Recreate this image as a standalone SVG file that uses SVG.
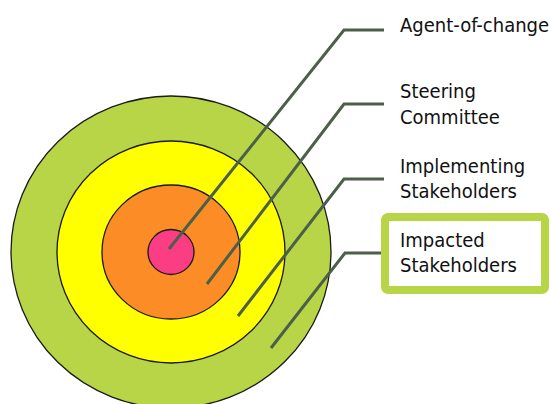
<svg xmlns="http://www.w3.org/2000/svg" width="551" height="404" viewBox="0 0 551 404">
<style>
.ring{stroke:#1a1a1a;stroke-width:1.3}
.lead{fill:none;stroke:#4b5f49;stroke-width:3;stroke-linejoin:miter}
.lbl{font-family:"DejaVu Sans","Liberation Sans",sans-serif;font-stretch:condensed;font-size:20px;fill:#111}
</style>
<rect width="551" height="404" fill="#fff"/>
<g id="impacted-ring"><ellipse class="ring" cx="171" cy="252" rx="160" ry="156" fill="#b8d548"/></g>
<g id="implementing-ring"><ellipse class="ring" cx="171" cy="252" rx="114" ry="111" fill="#ffff00"/></g>
<g id="steering-ring"><ellipse class="ring" cx="171" cy="252" rx="69" ry="67" fill="#fc8d26"/></g>
<g id="agent-ring"><ellipse class="ring" cx="171" cy="252" rx="23" ry="22.5" fill="#fb3d83"/></g>
<g id="connectors">
<polyline class="lead" points="169,249 344,30 384,30"/>
<polyline class="lead" points="207,284 344,104 384,104"/>
<polyline class="lead" points="238,316 344,179 384,179"/>
<polyline class="lead" points="271,348 345,253 382,253"/>
</g>
<g id="label-agent"><text class="lbl" x="400" y="32">Agent-of-change</text></g>
<g id="label-steering"><text class="lbl" x="400" y="98">Steering</text><text class="lbl" x="400" y="124">Committee</text></g>
<g id="label-implementing"><text class="lbl" x="400" y="173">Implementing</text><text class="lbl" x="400" y="198">Stakeholders</text></g>
<g id="label-impacted">
<rect x="385" y="217" width="160" height="73" rx="3" fill="#fff" stroke="#b8d548" stroke-width="8"/>
<text class="lbl" x="400" y="247">Impacted</text><text class="lbl" x="400" y="272">Stakeholders</text>
</g>
</svg>
